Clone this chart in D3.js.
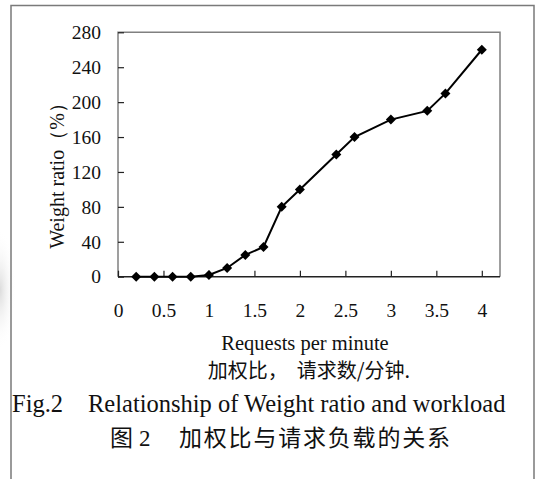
<!DOCTYPE html>
<html>
<head>
<meta charset="utf-8">
<script src="https://cdn.jsdelivr.net/npm/d3@7"></script>
<style>
  html, body { margin: 0; padding: 0; background: #fff; }
  svg { display: block; }
  .en { font-family: "Liberation Serif", "Times New Roman", serif; }
  .cn { font-family: "Noto Sans CJK SC", sans-serif; }
</style>
</head>
<body>
<svg id="chart" width="537" height="479"></svg>
<script>
// ---- data ----
const xValues = [0.2, 0.4, 0.6, 0.8, 1.0, 1.2, 1.4, 1.6, 1.8, 2.0, 2.4, 2.6, 3.0, 3.4, 3.6, 4.0];
const yValues = [0, 0, 0, 0, 2, 10, 25, 34, 80, 100, 140, 160, 180, 190, 210, 260];
const xTicks = [0, 0.5, 1, 1.5, 2, 2.5, 3, 3.5, 4];
const xTickLabels = ["0", "0.5", "1", "1.5", "2", "2.5", "3", "3.5", "4"];
const yTicks = [0, 40, 80, 120, 160, 200, 240, 280];
const xTitle = "Requests per minute";
const yTitle = "Weight ratio\uFF08%\uFF09";
const cnAxisNote = "加权比，  请求数/分钟.";
const figLabel = "Fig.2";
const figTitleEn = "Relationship of Weight ratio and workload";
const figNumCn = "图 2";
const figTitleCn = "加权比与请求负载的关系";

(function () {
const points = xValues.map((x, i) => ({ x, y: yValues[i] }));

const svg = d3.select("#chart");

// scan smudge at left edge
const defs = svg.append("defs");
const grad = defs.append("radialGradient").attr("id", "smudge");
grad.append("stop").attr("offset", "0%").attr("stop-color", "#d8d8d8").attr("stop-opacity", 0.9);
grad.append("stop").attr("offset", "100%").attr("stop-color", "#ffffff").attr("stop-opacity", 0);
svg.append("ellipse").attr("cx", 0).attr("cy", 290).attr("rx", 16).attr("ry", 60).attr("fill", "url(#smudge)");

// outer frame (top, left, right)
svg.append("path")
  .attr("d", "M11,479 L11,5.5 L534,5.5 L534,479")
  .attr("fill", "none").attr("stroke", "#7a7a7a").attr("stroke-width", 1.5);

const pl = 118, pr = 500, pt = 32.3, pb = 276.7;

const x = d3.scaleLinear().domain([0, 4.2]).range([pl, pr]);
const y = d3.scaleLinear().domain([0, 280]).range([pb, pt]);

// plot frame
svg.append("path")
  .attr("d", `M${pl},${pb} L${pl},${pt} L${pr},${pt} L${pr},${pb}`)
  .attr("fill", "none").attr("stroke", "#808080").attr("stroke-width", 1.5);
svg.append("line")
  .attr("x1", pl).attr("x2", pr).attr("y1", pb).attr("y2", pb)
  .attr("stroke", "#222").attr("stroke-width", 1.5);

// x axis
const xAxis = d3.axisBottom(x)
  .tickValues(xTicks)
  .tickFormat((d, i) => xTickLabels[i])
  .tickSizeInner(-6).tickSizeOuter(0).tickPadding(26);
const gx = svg.append("g").attr("transform", `translate(0,${pb})`).call(xAxis);
gx.select(".domain").remove();
gx.selectAll(".tick line").attr("stroke", "#222").attr("stroke-width", 1.2);
gx.selectAll(".tick text").attr("class", "en").attr("font-size", 19.5).attr("fill", "#111");
gx.attr("font-family", null).attr("font-size", null);

// y axis
const yAxis = d3.axisLeft(y)
  .tickValues(yTicks)
  .tickSizeInner(-6).tickSizeOuter(0).tickPadding(17);
const gy = svg.append("g").attr("transform", `translate(${pl},0)`).call(yAxis);
gy.select(".domain").remove();
gy.selectAll(".tick line").attr("stroke", "#222").attr("stroke-width", 1.2);
gy.selectAll(".tick text").attr("class", "en").attr("font-size", 19.5).attr("fill", "#111");
gy.attr("font-family", null).attr("font-size", null);

// line
svg.append("path")
  .datum(points)
  .attr("fill", "none").attr("stroke", "#000").attr("stroke-width", 2)
  .attr("d", d3.line().x(d => x(d.x)).y(d => y(d.y)));

// diamond markers
svg.selectAll(".mk").data(points).enter().append("path")
  .attr("class", "mk")
  .attr("d", d3.symbol().type(d3.symbolSquare).size(50))
  .attr("transform", d => `translate(${x(d.x)},${y(d.y)}) rotate(45)`)
  .attr("fill", "#000");

// y title
svg.append("text").attr("class", "en")
  .attr("transform", `translate(64,171) rotate(-90)`)
  .attr("text-anchor", "middle").attr("font-size", 20).attr("fill", "#111")
  .text(yTitle);

// x title
svg.append("text").attr("class", "en")
  .attr("x", 305).attr("y", 350).attr("text-anchor", "middle")
  .attr("font-size", 20.5).attr("fill", "#111")
  .text(xTitle);

// chinese axis note
svg.append("text").attr("class", "cn")
  .attr("x", 309).attr("y", 378).attr("text-anchor", "middle")
  .attr("font-size", 20).attr("fill", "#111")
  .style("white-space", "pre")
  .text(cnAxisNote);

// English figure caption
const cap = svg.append("text").attr("class", "en")
  .attr("x", 12).attr("y", 412).attr("font-size", 24.5).attr("fill", "#111");
cap.append("tspan").text(figLabel);
cap.append("tspan").attr("x", 88).text(figTitleEn);

// Chinese figure caption
const cap2 = svg.append("text").attr("y", 446).attr("fill", "#111");
cap2.append("tspan").attr("class", "cn").attr("x", 110).attr("font-size", 23).text(figNumCn.split(" ")[0]);
cap2.append("tspan").attr("class", "en").attr("x", 139).attr("font-size", 23).text(figNumCn.split(" ")[1]);
cap2.append("tspan").attr("class", "cn").attr("x", 179).attr("font-size", 23)
  .attr("letter-spacing", 1.8).text(figTitleCn);
})();
</script>
</body>
</html>
